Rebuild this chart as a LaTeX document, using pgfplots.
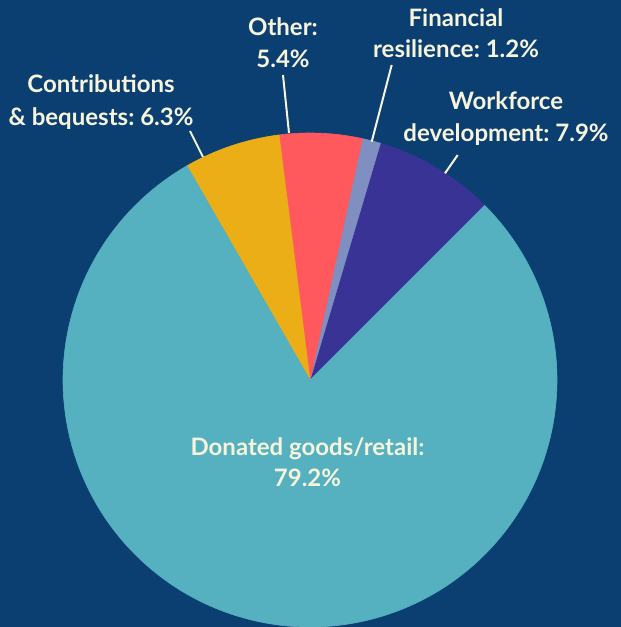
\documentclass[border=0pt]{standalone}
\usepackage{pgfplots}
\pgfplotsset{compat=1.18}
\usepackage{fontspec}
\setmainfont{Lato}
\frenchspacing
\definecolor{bg}{HTML}{0B3F71}
\definecolor{txt}{HTML}{F7F4DC}
\definecolor{cDonated}{HTML}{55B0BF}
\definecolor{cContrib}{HTML}{EBAE16}
\definecolor{cOther}{HTML}{FF585D}
\definecolor{cFinance}{HTML}{7F8FC2}
\definecolor{cWork}{HTML}{3A3396}
\tikzset{lbl/.style={anchor=base, text=txt, font=\bfseries\fontsize{12}{14}\selectfont, inner sep=0pt}}

% shares in percent, counter-clockwise from 45 degrees
\def\pWork{7.9}
\def\pFin{1.2}
\def\pOther{5.4}
\def\pContrib{6.3}
\def\pDon{79.2}

\begin{document}
\begin{tikzpicture}
\begin{axis}[
  hide axis,
  x=0.5pt, y=0.5pt,
  xmin=0, xmax=621, ymin=0, ymax=627,
  clip=true,
  samples=90,
  every axis plot/.append style={line width=0.3pt},
]
% background
\addplot[fill=bg, draw=none] coordinates {(0,0) (621,0) (621,627) (0,627)} -- cycle;

% slices, centre (310,247), radius 247
\addplot[fill=cWork, draw=cWork, domain={45}:{45+\pWork*3.6}, variable=\t]
  ({310+247*cos(\t)}, {247+247*sin(\t)}) -- (axis cs:310,247) -- cycle;
\addplot[fill=cFinance, draw=cFinance, domain={45+\pWork*3.6}:{45+(\pWork+\pFin)*3.6}, variable=\t, samples=10]
  ({310+247*cos(\t)}, {247+247*sin(\t)}) -- (axis cs:310,247) -- cycle;
\addplot[fill=cOther, draw=cOther, domain={45+(\pWork+\pFin)*3.6}:{45+(\pWork+\pFin+\pOther)*3.6}, variable=\t]
  ({310+247*cos(\t)}, {247+247*sin(\t)}) -- (axis cs:310,247) -- cycle;
\addplot[fill=cContrib, draw=cContrib, domain={45+(\pWork+\pFin+\pOther)*3.6}:{45+(\pWork+\pFin+\pOther+\pContrib)*3.6}, variable=\t]
  ({310+247*cos(\t)}, {247+247*sin(\t)}) -- (axis cs:310,247) -- cycle;
\addplot[fill=cDonated, draw=cDonated, domain={45+(\pWork+\pFin+\pOther+\pContrib)*3.6}:{405}, variable=\t, samples=300]
  ({310+247*cos(\t)}, {247+247*sin(\t)}) -- (axis cs:310,247) -- cycle;

% leader lines
\addplot[draw=txt, line width=1pt] coordinates {(190,496) (203,470)};
\addplot[draw=txt, line width=1pt] coordinates {(283,552) (289,494)};
\addplot[draw=txt, line width=1pt] coordinates {(391.7,562) (371.7,485.3)};
\addplot[draw=txt, line width=1pt] coordinates {(457.7,472) (445,453.7)};

% labels
\node[lbl] at (axis cs:101,534) {Contributions};
\node[lbl] at (axis cs:101,501) {\& bequests: 6.3\%};
\node[lbl] at (axis cs:283,591) {Other:};
\node[lbl] at (axis cs:283,559) {5.4\%};
\node[lbl] at (axis cs:456,600) {Financial};
\node[lbl] at (axis cs:456,569) {resilience: 1.2\%};
\node[lbl] at (axis cs:506,517) {Workforce};
\node[lbl] at (axis cs:506,485) {development: 7.9\%};
\node[lbl] at (axis cs:307.5,171) {Donated goods/retail:};
\node[lbl] at (axis cs:307.5,140) {79.2\%};
\end{axis}
\end{tikzpicture}
\end{document}
